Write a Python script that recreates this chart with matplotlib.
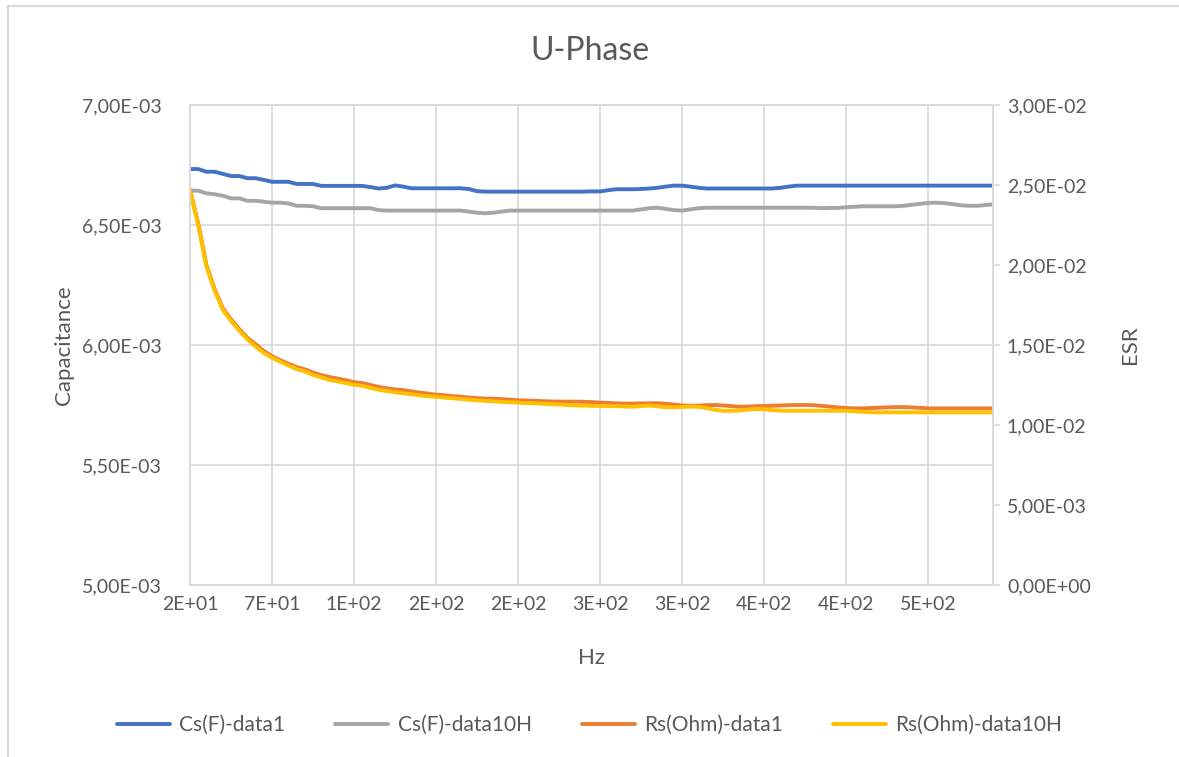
import matplotlib
matplotlib.use('Agg')

import numpy as np
import matplotlib.pyplot as plt
from matplotlib.ticker import FuncFormatter, MultipleLocator, FixedLocator
from matplotlib.lines import Line2D

# Frequency sweep (Hz), 5 Hz steps from 20 to 510
freq = np.arange(20, 515, 5)

# Series capacitance, in mF (x1e-3 F)
cs_data1 = [
    6.733, 6.733, 6.722, 6.722, 6.713, 6.704, 6.704, 6.695, 6.695, 6.688,
    6.680, 6.680, 6.680, 6.671, 6.671, 6.671, 6.663, 6.663, 6.663, 6.663,
    6.663, 6.663, 6.658, 6.652, 6.655, 6.665, 6.660, 6.653, 6.653, 6.653,
    6.653, 6.653, 6.653, 6.653, 6.650, 6.641, 6.639, 6.639, 6.639, 6.639,
    6.639, 6.639, 6.639, 6.639, 6.639, 6.639, 6.639, 6.639, 6.639, 6.640,
    6.640, 6.645, 6.649, 6.649, 6.649, 6.650, 6.652, 6.655, 6.660, 6.664,
    6.664, 6.660, 6.655, 6.652, 6.652, 6.652, 6.652, 6.652, 6.652, 6.652,
    6.652, 6.652, 6.655, 6.660, 6.664, 6.664, 6.664, 6.664, 6.664, 6.664,
    6.664, 6.664, 6.664, 6.664, 6.664, 6.664, 6.664, 6.664, 6.664, 6.664,
    6.664, 6.664, 6.664, 6.664, 6.664, 6.664, 6.664, 6.664, 6.664,
]
cs_data10h = [
    6.643, 6.643, 6.632, 6.628, 6.622, 6.611, 6.611, 6.601, 6.601, 6.597,
    6.593, 6.593, 6.590, 6.580, 6.580, 6.578, 6.570, 6.570, 6.570, 6.570,
    6.570, 6.570, 6.570, 6.562, 6.560, 6.560, 6.560, 6.560, 6.560, 6.560,
    6.560, 6.560, 6.560, 6.560, 6.556, 6.551, 6.549, 6.551, 6.556, 6.560,
    6.560, 6.560, 6.560, 6.560, 6.560, 6.560, 6.560, 6.560, 6.560, 6.560,
    6.560, 6.560, 6.560, 6.560, 6.560, 6.565, 6.570, 6.572, 6.567, 6.562,
    6.560, 6.565, 6.570, 6.572, 6.572, 6.572, 6.572, 6.572, 6.572, 6.572,
    6.572, 6.572, 6.572, 6.572, 6.572, 6.572, 6.572, 6.570, 6.571, 6.571,
    6.574, 6.576, 6.578, 6.578, 6.578, 6.578, 6.578, 6.580, 6.584, 6.588,
    6.592, 6.593, 6.591, 6.587, 6.582, 6.580, 6.580, 6.583, 6.586,
]

# Equivalent series resistance, in x1e-2 Ohm
rs_data1 = [
    2.470, 2.260, 2.000, 1.850, 1.730, 1.660, 1.600, 1.545, 1.505, 1.462,
    1.430, 1.405, 1.383, 1.362, 1.348, 1.328, 1.312, 1.300, 1.290, 1.280,
    1.268, 1.262, 1.250, 1.238, 1.230, 1.222, 1.218, 1.210, 1.203, 1.196,
    1.190, 1.186, 1.181, 1.177, 1.172, 1.168, 1.165, 1.164, 1.162, 1.158,
    1.155, 1.153, 1.151, 1.149, 1.147, 1.146, 1.146, 1.146, 1.145, 1.143,
    1.140, 1.138, 1.135, 1.134, 1.134, 1.135, 1.136, 1.136, 1.133, 1.128,
    1.122, 1.120, 1.121, 1.124, 1.125, 1.122, 1.118, 1.114, 1.115, 1.118,
    1.119, 1.120, 1.122, 1.124, 1.125, 1.125, 1.124, 1.120, 1.115, 1.110,
    1.106, 1.104, 1.104, 1.106, 1.108, 1.110, 1.112, 1.112, 1.110, 1.107,
    1.104, 1.104, 1.104, 1.104, 1.104, 1.104, 1.104, 1.104, 1.104,
]
rs_data10h = [
    2.470, 2.250, 1.990, 1.840, 1.720, 1.650, 1.590, 1.535, 1.490, 1.450,
    1.420, 1.396, 1.372, 1.350, 1.335, 1.313, 1.298, 1.282, 1.272, 1.262,
    1.252, 1.245, 1.232, 1.220, 1.212, 1.205, 1.198, 1.192, 1.185, 1.180,
    1.176, 1.172, 1.167, 1.163, 1.158, 1.154, 1.151, 1.148, 1.145, 1.142,
    1.140, 1.137, 1.136, 1.133, 1.130, 1.128, 1.125, 1.122, 1.121, 1.120,
    1.119, 1.119, 1.118, 1.116, 1.114, 1.118, 1.122, 1.117, 1.111, 1.110,
    1.113, 1.115, 1.114, 1.105, 1.095, 1.089, 1.089, 1.090, 1.096, 1.100,
    1.098, 1.093, 1.090, 1.089, 1.089, 1.089, 1.089, 1.089, 1.089, 1.089,
    1.089, 1.086, 1.083, 1.080, 1.079, 1.079, 1.079, 1.079, 1.079, 1.079,
    1.079, 1.079, 1.079, 1.079, 1.079, 1.079, 1.079, 1.079, 1.079,
]

x_ticks = np.arange(20, 510, 50)

series_names = ['Cs(F)-data1', 'Cs(F)-data10H', 'Rs(Ohm)-data1', 'Rs(Ohm)-data10H']
colors = ['#4472C4', '#A5A5A5', '#ED7D31', '#FFC000']

plt.rcParams['font.family'] = ['Lato', 'DejaVu Sans']
text_col = '#595959'
grid_col = '#D9D9D9'

fig = plt.figure(figsize=(11.79, 7.57), dpi=100)
W, H = 1179, 757
ax = fig.add_axes([190 / W, (H - 585) / H, 803 / W, 480 / H])
ax2 = ax.twinx()

lw = 2.8
ax.plot(freq, np.array(cs_data1) * 1e-3, color=colors[0], lw=lw, label=series_names[0],
        solid_capstyle='round')
ax.plot(freq, np.array(cs_data10h) * 1e-3, color=colors[1], lw=lw, label=series_names[1],
        solid_capstyle='round')
ax2.plot(freq, np.array(rs_data1) * 1e-2, color=colors[2], lw=lw, label=series_names[2],
         solid_capstyle='round')
ax2.plot(freq, np.array(rs_data10h) * 1e-2, color=colors[3], lw=lw, label=series_names[3],
         solid_capstyle='round')

# Axis ranges and ticks
ax.set_xlim(20, 509.6)
ax.set_ylim(5e-3, 7e-3)
ax2.set_ylim(0, 3e-2)
ax.xaxis.set_major_locator(FixedLocator(x_ticks))
ax.yaxis.set_major_locator(MultipleLocator(0.5e-3))
ax2.yaxis.set_major_locator(MultipleLocator(0.5e-2))

sci_comma = FuncFormatter(lambda v, p: f"{v:.2E}".replace('.', ','))
ax.yaxis.set_major_formatter(sci_comma)
ax2.yaxis.set_major_formatter(sci_comma)
ax.xaxis.set_major_formatter(FuncFormatter(lambda v, p: f"{v:.0E}"))

ax.grid(True, color=grid_col, lw=1.2)
ax.set_axisbelow(True)
for a in (ax, ax2):
    for s in a.spines.values():
        s.set_color(grid_col)
        s.set_linewidth(1.2)

ax.tick_params(axis='both', length=0, labelsize=14, labelcolor=text_col)
ax.tick_params(axis='y', pad=20)
ax.tick_params(axis='x', pad=8)
ax2.tick_params(axis='y', length=5, width=1.2, color=grid_col, labelsize=14,
                labelcolor=text_col, pad=5)

ax.set_xlabel('Hz', fontsize=16, color=text_col, labelpad=25)
ax.set_ylabel('Capacitance', fontsize=16, color=text_col, labelpad=6)
ax2.set_ylabel('ESR', fontsize=16, color=text_col, labelpad=21)

fig.text(0.5, 1 - 51 / H, 'U-Phase', ha='center', va='center', fontsize=23, color=text_col)

handles = ax.get_lines() + ax2.get_lines()
fig.legend(handles, series_names, loc='center', bbox_to_anchor=(0.5, (H - 725) / H),
           ncol=4, frameon=False, fontsize=15, handlelength=2.55, handletextpad=0.45,
           columnspacing=2.4, labelcolor=text_col)

# Chart area border
fig.add_artist(Line2D([8 / W, 8 / W], [0, 1 - 6 / H], color=grid_col, lw=1.5))
fig.add_artist(Line2D([8 / W, 1], [1 - 6 / H, 1 - 6 / H], color=grid_col, lw=1.5))

fig.savefig('out.png')
